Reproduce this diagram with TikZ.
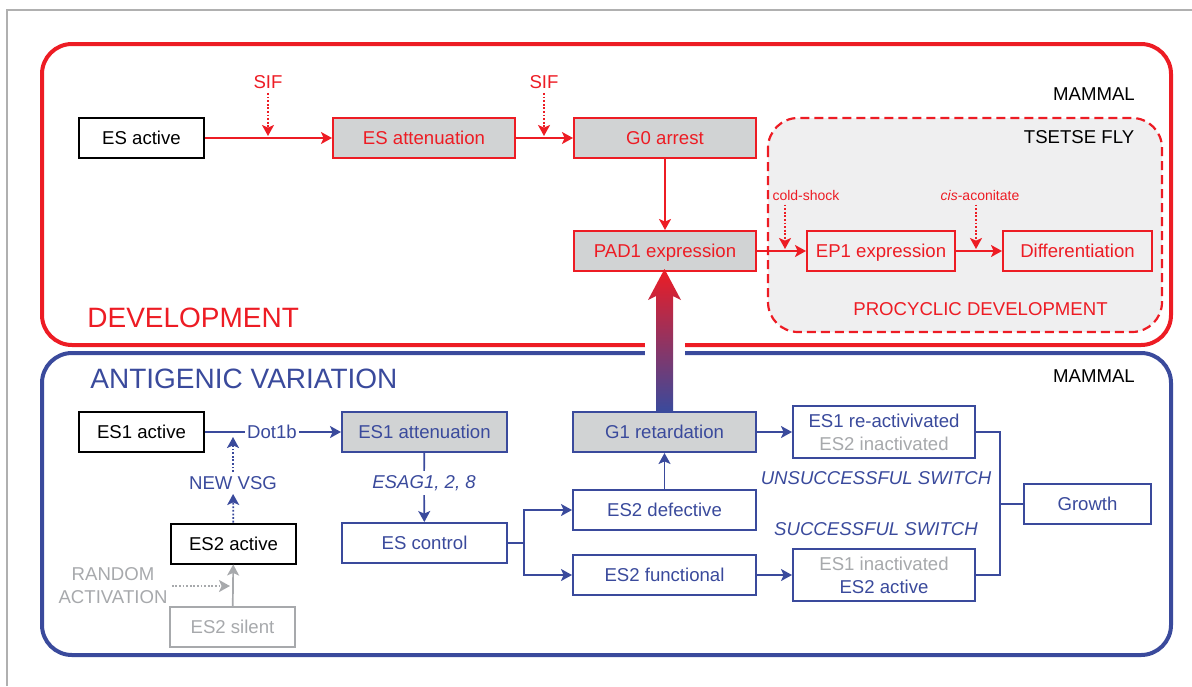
\documentclass[tikz,border=0pt]{standalone}
\usepackage{fontspec}
\setmainfont{Liberation Sans}
\usetikzlibrary{arrows.meta}

\definecolor{devred}{RGB}{237,28,36}
\definecolor{avblue}{RGB}{58,74,156}
\definecolor{boxgray}{RGB}{209,211,212}
\definecolor{textgray}{RGB}{167,169,172}
\definecolor{flygray}{RGB}{239,239,240}
\definecolor{framegray}{RGB}{176,176,176}
\definecolor{midpurple}{RGB}{112,48,146}

\newcommand{\stagefont}{\fontsize{9.3}{11.5}\selectfont}
\newcommand{\titlefont}{\fontsize{14}{16}\selectfont}
\newcommand{\cuefont}{\fontsize{7}{8.5}\selectfont}

\tikzstyle{stage} = [draw, line width=1pt, minimum height=20pt, inner sep=2pt, text height=6.7pt, text depth=0pt, font=\stagefont]
\tikzstyle{blackstage} = [stage, draw=black, fill=white]
\tikzstyle{redstage} = [stage, draw=devred, text=devred]
\tikzstyle{bluestage} = [stage, draw=avblue, text=avblue, fill=white]
\tikzstyle{graystage} = [stage, draw=textgray, text=textgray, fill=white]
\tikzstyle{twoline} = [align=center, text height={}, text depth={}, minimum height=26pt]
\tikzstyle{cue} = [font=\stagefont, inner sep=2pt]
\tikzstyle{flow} = [-{Stealth[length=5.5pt, width=6pt, inset=1.3pt]}, line width=0.85pt]
\tikzstyle{dotflow} = [flow, dash pattern=on 0.9pt off 0.9pt]

\begin{document}
\begin{tikzpicture}[x=0.5pt, y=-0.5pt]
\useasboundingbox (0,0) rectangle (1192,686);
\draw[framegray, line width=0.75pt] (7,686) -- (7,10) -- (1192,10);

% the two compartments
\draw[devred, line width=2pt, rounded corners=15pt] (42,44) rectangle (1171,345);
\draw[avblue, line width=2pt, rounded corners=15pt] (42,353) rectangle (1171,655);
\draw[devred, line width=1.1pt, dash pattern=on 4.5pt off 2.5pt, fill=flygray, rounded corners=15pt] (768,118) rectangle (1162,332);
\fill[white] (645,338) rectangle (685,361);

\draw (87,318) node[anchor=west, inner sep=0pt, text=devred, font=\titlefont] (dev) {DEVELOPMENT};
\draw (90,379) node[anchor=west, inner sep=0pt, text=avblue, font=\titlefont] (av) {ANTIGENIC VARIATION};
\draw (1094,94) node[cue] (mammaltop) {MAMMAL};
\draw (1094,376) node[cue] (mammalbot) {MAMMAL};
\draw (1079,137) node[cue] (tsetse) {TSETSE FLY};
\draw (980.5,309) node[cue, text=devred] (procyclic) {PROCYCLIC DEVELOPMENT};

% development
\draw (141.5,138) node[blackstage, minimum width=62.5pt] (esact) {ES active};
\draw (424,138) node[redstage, fill=boxgray, minimum width=91pt] (esatt) {ES attenuation};
\draw (665,138) node[redstage, fill=boxgray, minimum width=91pt] (gzero) {G0 arrest};
\draw (665,251) node[redstage, fill=boxgray, minimum width=91pt] (pad) {PAD1 expression};
\draw (881,251) node[redstage, minimum width=74pt] (epone) {EP1 expression};
\draw (1077.5,251) node[redstage, minimum width=74.5pt] (diff) {Differentiation};

\draw (268,82) node[cue, text=devred] (sifa) {SIF};
\draw (544,82) node[cue, text=devred] (sifb) {SIF};
\draw (806,195) node[cue, text=devred, font=\cuefont] (cold) {cold-shock};
\draw (980,195) node[cue, text=devred, font=\cuefont] (cis) {\textit{cis}-aconitate};
\coordinate (sifaend) at (268,136);
\coordinate (sifbend) at (544,136);
\coordinate (coldend) at (785,249);
\coordinate (cisend) at (976,249);

\draw[flow, devred] (esact) -- (esatt);
\draw[flow, devred] (esatt) -- (gzero);
\draw[flow, devred] (gzero) -- (pad);
\draw[flow, devred] (pad) -- (epone);
\draw[flow, devred] (epone) -- (diff);
\draw[dotflow, devred] (sifa) -- (sifaend);
\draw[dotflow, devred] (sifb) -- (sifbend);
\draw[dotflow, devred] (cold.south -| coldend) -- (coldend);
\draw[dotflow, devred] (cis.south -| cisend) -- (cisend);

% antigenic variation
\draw (141.5,432) node[blackstage, minimum width=62.5pt] (esoneact) {ES1 active};
\draw (424.5,432) node[bluestage, fill=boxgray, minimum width=82.5pt] (esoneatt) {ES1 attenuation};
\draw (233.5,543.5) node[blackstage, minimum width=62.5pt] (estwoact) {ES2 active};
\draw (232.5,627) node[graystage, minimum width=62.5pt] (estwosil) {ES2 silent};
\draw (424.5,543) node[bluestage, minimum width=82.5pt] (esctrl) {ES control};
\draw (664.5,432) node[bluestage, fill=boxgray, minimum width=91.5pt] (gone) {G1 retardation};
\draw (664.5,510) node[bluestage, minimum width=91.5pt] (esdef) {ES2 defective};
\draw (664.5,575) node[bluestage, minimum width=91.5pt] (esfun) {ES2 functional};
\draw (884,432) node[bluestage, twoline, minimum width=91pt] (react) {ES1 re-activivated\\\textcolor{textgray}{ES2 inactivated}};
\draw (884,575) node[bluestage, twoline, minimum width=91pt] (switched) {\textcolor{textgray}{ES1 inactivated}\\ES2 active};
\draw (1087.5,504) node[bluestage, minimum width=63.5pt] (growth) {Growth};

\draw (272,432) node[cue, text=avblue, inner sep=1pt] (dot) {Dot1b};
\draw (233,483) node[cue, text=avblue] (vsg) {NEW VSG};
\draw (113,586) node[cue, text=textgray, align=center] (random) {RANDOM\\ACTIVATION};
\draw (424,483) node[cue, text=avblue, font=\stagefont\itshape] (esag) {ESAG1, 2, 8};
\draw (876,478) node[cue, text=avblue, font=\stagefont\itshape] (unsuccsw) {UNSUCCESSFUL SWITCH};
\draw (876,529) node[cue, text=avblue, font=\stagefont\itshape] (succsw) {SUCCESSFUL SWITCH};
\coordinate (vsgend) at (233,437);
\coordinate (randend) at (230,586);
\coordinate (merge) at (1000,504);

\draw[avblue, line width=0.85pt] (esoneact) -- (dot);
\draw[flow, avblue] (dot) -- (esoneatt);
\draw[dotflow, avblue] (estwoact) -- (vsg);
\draw[dotflow, avblue] (vsg) -- (vsgend);
\draw[flow, textgray] (estwosil) -- (estwoact);
\draw[dotflow, textgray] (random) -- (randend);
\draw[avblue, line width=0.85pt] (esoneatt) -- (esag);
\draw[flow, avblue] (esag) -- (esctrl);
\draw[flow, avblue] (esctrl.east) -- ++(16,0) |- (esdef);
\draw[flow, avblue] (esctrl.east) -- ++(16,0) |- (esfun);
\draw[flow, avblue] (esdef) -- (gone);
\draw[flow, avblue] (gone) -- (react);
\draw[flow, avblue] (esfun) -- (switched);
\draw[avblue, line width=0.85pt] (react.east) -| (merge) |- (switched.east);
\draw[avblue, line width=0.85pt] (merge) -- (growth);

% G1 retardation signals PAD1
\shade[top color=devred, middle color=midpurple, bottom color=avblue]
  ([xshift=-4.25pt]gone.north) -- ++(0,-115) -- ++(-8,4) -- ++(16.5,-31)
  -- ++(16.5,31) -- ++(-8,-4) -- ++(0,115) -- cycle;
\end{tikzpicture}
\end{document}
